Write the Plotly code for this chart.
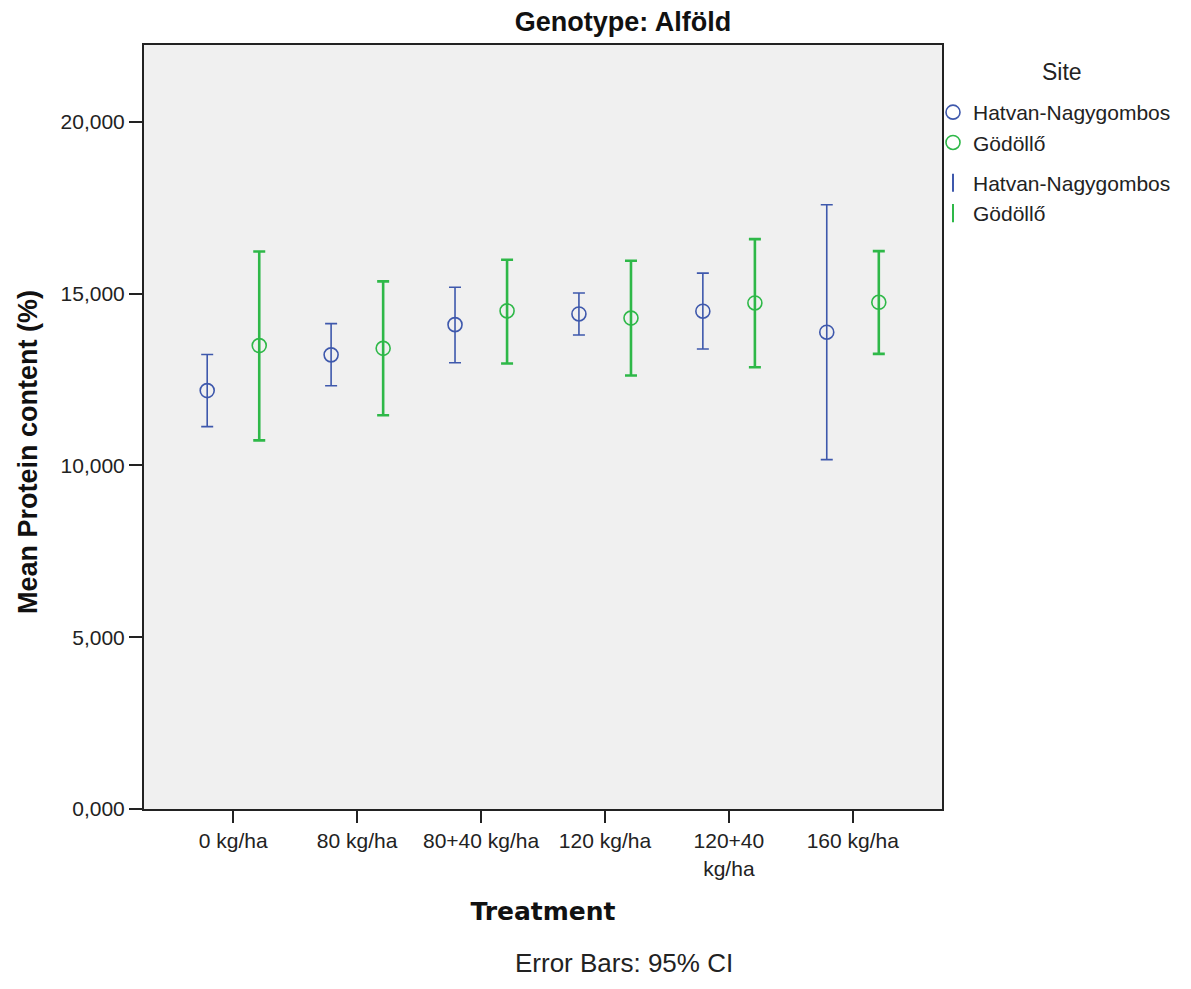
import plotly.graph_objects as go

# ---- data ----
treatments = ["0 kg/ha", "80 kg/ha", "80+40 kg/ha", "120 kg/ha", "120+40 kg/ha", "160 kg/ha"]
tick_labels = ["0 kg/ha", "80 kg/ha", "80+40 kg/ha", "120 kg/ha", "120+40<br>kg/ha", "160 kg/ha"]
sites = ["Hatvan-Nagygombos", "Gödöllő"]

hatvan_mean = [12.18, 13.22, 14.10, 14.41, 14.49, 13.88]
hatvan_upper = [13.23, 14.13, 15.19, 15.02, 15.60, 17.59]
hatvan_lower = [11.13, 12.32, 12.99, 13.80, 13.39, 10.17]

godollo_mean = [13.49, 13.41, 14.50, 14.29, 14.73, 14.75]
godollo_upper = [16.23, 15.36, 15.99, 15.96, 16.59, 16.24]
godollo_lower = [10.73, 11.46, 12.97, 12.62, 12.86, 13.25]

colors = ["#3E58AC", "#2EB848"]
bar_width = [1.6, 2.6]

series = [
    (hatvan_mean, hatvan_upper, hatvan_lower),
    (godollo_mean, godollo_upper, godollo_lower),
]

FONT = "Liberation Sans, Arial, sans-serif"

# page geometry (the html body adds an 8px margin)
W, H = 1181, 973
PL, PR, PT, PB = 144, 942, 45, 809  # plot area in page pixels


def px(X):
    return (X - PL) / (PR - PL)


def py(Y):
    return (PB - Y) / (PB - PT)


fig = go.Figure()
for i, (name, (m, up, lo)) in enumerate(zip(sites, series)):
    fig.add_trace(go.Scatter(
        x=treatments, y=m, mode="markers", name=name,
        legendgroup="points", offsetgroup=f"g{i}",
        marker=dict(symbol="circle-open", size=14, color=colors[i],
                    line=dict(width=1.6, color=colors[i])),
        error_y=dict(type="data", symmetric=False,
                     array=[u - v for u, v in zip(up, m)],
                     arrayminus=[v - l for v, l in zip(m, lo)],
                     color=colors[i], thickness=bar_width[i], width=6),
    ))
for i, name in enumerate(sites):
    fig.add_trace(go.Scatter(
        x=[None], y=[None], mode="markers", name=name,
        legendgroup="bars", offsetgroup=f"g{i}",
        marker=dict(symbol="line-ns-open", size=13, color=colors[i],
                    line=dict(width=2, color=colors[i])),
    ))

fig.update_layout(
    width=W, height=H,
    margin=dict(l=PL - 8, r=W + 8 - PR, t=PT - 8, b=H + 8 - PB),
    paper_bgcolor="white", plot_bgcolor="#F0F0F0",
    scattermode="group", scattergap=0.16,
    separators=", ",
    font=dict(family=FONT, size=21, color="#222"),
    title=dict(text="<b>Genotype: Alföld</b>", xref="paper", x=px(623), xanchor="center",
               yref="container", y=1 - (22 - 8) / H, yanchor="middle",
               font=dict(family=FONT, size=27, color="#111")),
    xaxis=dict(
        type="category", categoryorder="array", categoryarray=treatments,
        tickvals=treatments, ticktext=tick_labels,
        range=[-0.72, 5.72],
        showgrid=False, zeroline=False,
        showline=True, linecolor="#222", linewidth=2, mirror=True,
        ticks="outside", ticklen=12, tickwidth=2, tickcolor="#222",
        tickfont=dict(family=FONT, size=21, color="#222"),
        title=dict(text="<b>Treatment</b>", standoff=24,
                   font=dict(family="DejaVu Sans, sans-serif", size=25, color="#111")),
    ),
    yaxis=dict(
        range=[0, 22.24], tickvals=[0, 5, 10, 15, 20], tickformat=".3f",
        showgrid=False, zeroline=False,
        showline=True, linecolor="#222", linewidth=2, mirror=True,
        ticks="outside", ticklen=13, tickwidth=2, tickcolor="#222",
        tickfont=dict(family=FONT, size=21, color="#222"),
    ),
    legend=dict(
        x=px(933), xanchor="left", y=py(92), yanchor="top",
        font=dict(family=FONT, size=21, color="#222"),
        traceorder="grouped", tracegroupgap=10,
        itemwidth=30, bgcolor="rgba(0,0,0,0)",
    ),
    annotations=[
        dict(text="<b>Mean Protein content (%)</b>", xref="paper", yref="paper",
             x=px(28), y=py(452), xanchor="center", yanchor="middle", textangle=-90,
             showarrow=False, font=dict(family=FONT, size=27, color="#111")),
        dict(text="Site", xref="paper", yref="paper",
             x=px(1062), y=py(72), xanchor="center", yanchor="middle",
             showarrow=False, font=dict(family=FONT, size=23, color="#222")),
        dict(text="Error Bars: 95% CI", xref="paper", yref="paper",
             x=px(624), y=py(963), xanchor="center", yanchor="middle",
             showarrow=False, font=dict(family=FONT, size=26, color="#222")),
    ],
)

fig.write_html("out.html")
